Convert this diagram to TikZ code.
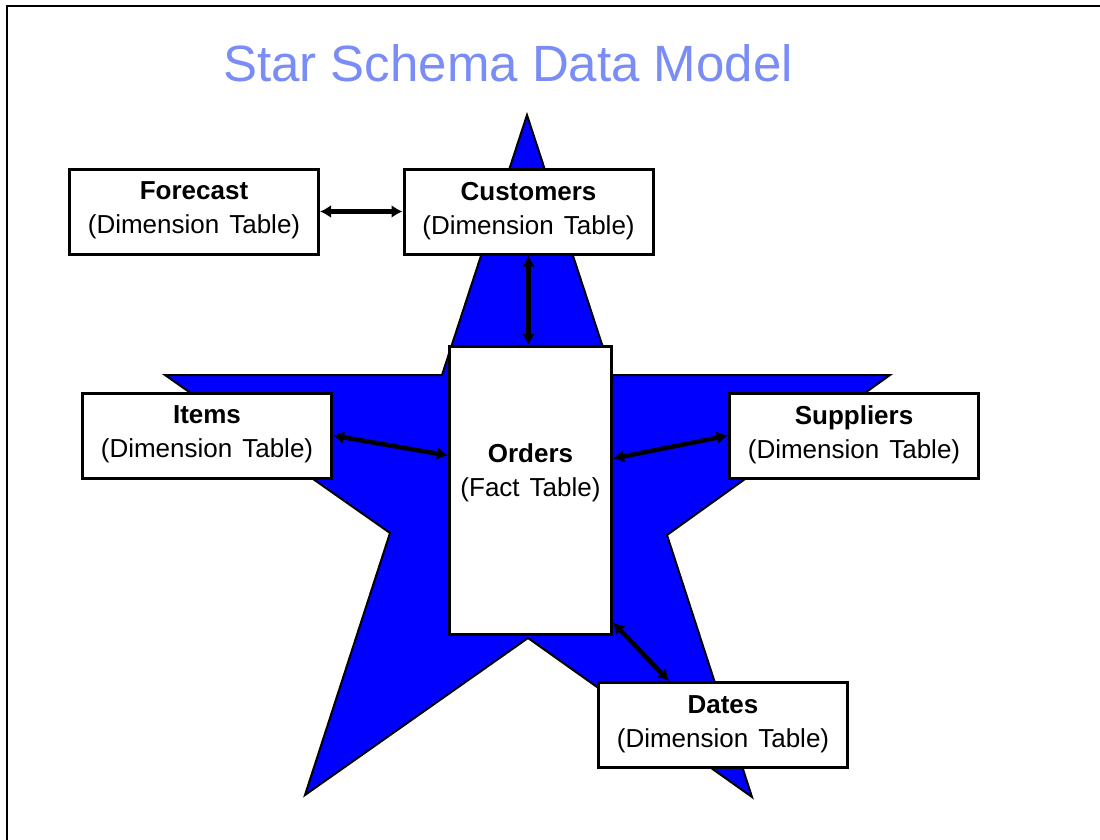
\documentclass[tikz,border=0pt]{standalone}
\usepackage{fontspec}
\setmainfont{Liberation Sans}
\usetikzlibrary{arrows.meta}
\definecolor{starblue}{RGB}{0,0,255}
\definecolor{titleblue}{RGB}{122,140,245}
\newcommand{\tablefont}{\fontsize{26}{34}\selectfont\spaceskip=10pt\relax}

\begin{document}
\begin{tikzpicture}[
  x=1pt, y=-1pt,
  >={Latex[length=11pt,width=13pt]},
  dimtable/.style={rectangle, draw, fill=white, line width=3pt, minimum width=249pt, minimum height=85pt, align=center, font=\tablefont, text depth=7pt},
  facttable/.style={dimtable, minimum width=162pt, minimum height=288pt, text depth=40pt},
  link/.style={<->, line width=4.5pt}
]
\useasboundingbox (0,0) rectangle (1100,840);

% Page frame
\draw[line width=2pt] (7,840) -- (7,6) -- (1100,6);

% Title
\node[font=\fontsize{51}{60}\selectfont, text=titleblue] (title) at (508,63) {Star Schema Data Model};

% Star
\draw[fill=starblue, line width=2pt] (527,115) -- (612,375) -- (890,375) -- (667,535) -- (752,797) -- (528,638) -- (305,795) -- (390,533) -- (165,375) -- (442,375) -- cycle;

% Fact table
\node[facttable] (orders) at (530.5,490.5) {\textbf{Orders}\\(Fact Table)};

% Dimension tables
\node[dimtable] (customers) at (528.5,211.5) {\textbf{Customers}\\(Dimension Table)};
\node[dimtable, left of=customers, node distance=334.5pt] (forecast) {\textbf{Forecast}\\(Dimension Table)};
\node[dimtable] (items) at (207,435.5) {\textbf{Items}\\(Dimension Table)};
\node[dimtable, right of=items, node distance=647pt] (suppliers) {\textbf{Suppliers}\\(Dimension Table)};
\node[dimtable] (dates) at (723,725) {\textbf{Dates}\\(Dimension Table)};

% Arrows
\draw[link] (forecast) -- (customers);
\draw[link] (customers.south) -- (customers.south |- orders.north);
\draw[link] (items.east) -- ([yshift=35pt]orders.west);
\draw[link] ([yshift=32pt]orders.east) -- (suppliers.west);
\draw[link] ([yshift=-132pt]orders.east) -- ([xshift=-54pt]dates.north);
\end{tikzpicture}
\end{document}
